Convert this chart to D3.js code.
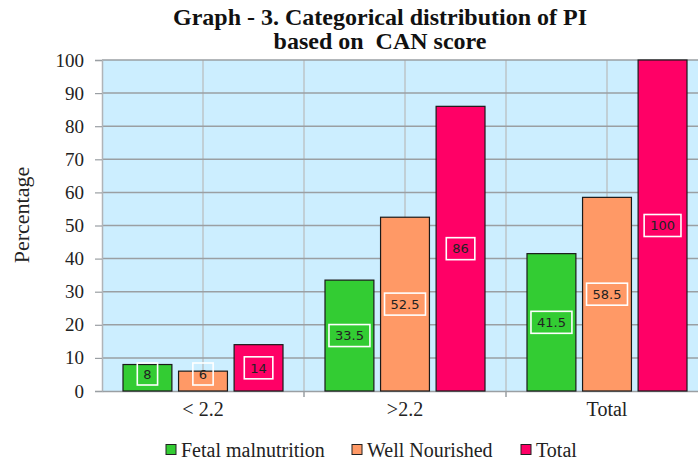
<!DOCTYPE html>
<html>
<head>
<meta charset="utf-8">
<script src="https://cdn.jsdelivr.net/npm/d3@7"></script>
<style>
  body { margin: 0; background: #fff; }
  svg { display: block; }
</style>
</head>
<body>
<svg id="svg" width="698" height="460"></svg>
<script>
var categories = ['< 2.2', '>2.2', 'Total'];
var series = ['Fetal malnutrition', 'Well Nourished', 'Total'];
var fetalValues = [8, 33.5, 41.5];
var wellValues = [6, 52.5, 58.5];
var totalValues = [14, 86, 100];
var yTicks = [0, 10, 20, 30, 40, 50, 60, 70, 80, 90, 100];
var colors = ['#33cc33', '#ff9966', '#ff0066'];

var svg = d3.select('#svg');
var margin = { top: 60, left: 102 };
var plotRight = 708;   // plot runs past the right edge of the picture
var plotBottom = 391;

var x = d3.scaleBand().domain(categories).range([margin.left, plotRight]);
var xs = d3.scaleBand().domain(series).range([21, 181]).paddingInner(0.12);
var y = d3.scaleLinear().domain([0, 100]).range([plotBottom, margin.top]);

var serif = 'Liberation Serif, Times New Roman, serif';

function serifText(sel, size) {
    sel.attr('font-family', serif)
       .style('font-family', serif)
       .style('font-size', size + 'px')
       .attr('fill', '#222');
}

// plot background
svg.append('rect')
    .attr('x', margin.left).attr('y', margin.top)
    .attr('width', plotRight - margin.left).attr('height', plotBottom - margin.top)
    .attr('fill', '#cceeff');

// vertical gridlines at band edges and centres
var vlines = [];
categories.forEach(function(c) {
    vlines.push(x(c) + x.bandwidth() / 2);
    vlines.push(x(c) + x.bandwidth());
});
svg.append('g').selectAll('line')
    .data(vlines)
    .enter().append('line')
    .attr('x1', d => d).attr('x2', d => d)
    .attr('y1', margin.top).attr('y2', plotBottom)
    .attr('stroke', '#bcc4c8').attr('stroke-width', 1.5);

// horizontal gridlines
svg.append('g').selectAll('line')
    .data(yTicks.slice(1))
    .enter().append('line')
    .attr('x1', margin.left).attr('x2', plotRight)
    .attr('y1', d => y(d)).attr('y2', d => y(d))
    .attr('stroke', '#9a9fa3').attr('stroke-width', 1.5);

// y axis
var yAxis = svg.append('g')
    .attr('transform', 'translate(' + margin.left + ',0)')
    .call(d3.axisLeft(y).tickValues(yTicks).tickSize(7).tickPadding(11));
yAxis.attr('font-family', null);
yAxis.select('.domain').attr('stroke', '#b0b4b8').attr('stroke-width', 1.5);
yAxis.selectAll('.tick line').attr('stroke', '#9a9fa3').attr('stroke-width', 1.2);
yAxis.selectAll('.tick text').call(serifText, 19);

// x axis
var xAxis = svg.append('g')
    .attr('transform', 'translate(0,' + plotBottom + ')')
    .call(d3.axisBottom(x).tickSize(0).tickPadding(11));
xAxis.attr('font-family', null);
xAxis.select('.domain').attr('stroke', '#9a9fa3').attr('stroke-width', 1.5);
xAxis.selectAll('.tick text').call(serifText, 20);
svg.append('g').selectAll('line')
    .data(categories.slice(1))
    .enter().append('line')
    .attr('x1', d => x(d)).attr('x2', d => x(d))
    .attr('y1', plotBottom).attr('y2', plotBottom + 6)
    .attr('stroke', '#9a9fa3').attr('stroke-width', 1.5);

// bars
var rows = [];
categories.forEach(function(c, i) {
    [fetalValues[i], wellValues[i], totalValues[i]].forEach(function(v, j) {
        rows.push({ cat: c, ser: series[j], value: v, color: colors[j] });
    });
});

svg.append('g').selectAll('rect')
    .data(rows)
    .enter().append('rect')
    .attr('x', d => x(d.cat) + xs(d.ser))
    .attr('y', d => y(d.value))
    .attr('width', xs.bandwidth())
    .attr('height', d => plotBottom - y(d.value))
    .attr('fill', d => d.color)
    .attr('stroke', '#1a1a1a').attr('stroke-width', 1.2);

// value labels with white boxes
var lab = svg.append('g').selectAll('g')
    .data(rows)
    .enter().append('g')
    .attr('transform', function(d) {
        var cy = Math.min(y(d.value / 2), plotBottom - 17);
        return 'translate(' + (x(d.cat) + xs(d.ser) + xs.bandwidth() / 2) + ',' + cy + ')';
    });
lab.append('text')
    .attr('text-anchor', 'middle')
    .attr('dy', '0.36em')
    .style('font-family', 'DejaVu Sans, Verdana, sans-serif')
    .style('font-size', '13px')
    .attr('fill', '#222')
    .text(d => d.value);
lab.each(function() {
    var g = d3.select(this);
    var w = g.select('text').node().getComputedTextLength() + 12;
    g.insert('rect', 'text')
        .attr('x', -w / 2).attr('y', -11)
        .attr('width', w).attr('height', 22)
        .attr('fill', 'none')
        .attr('stroke', '#fff').attr('stroke-width', 1.6);
});

// title
var title = svg.append('text')
    .attr('text-anchor', 'middle')
    .call(serifText, 24)
    .style('font-weight', 'bold')
    .attr('fill', '#111');
title.append('tspan').attr('x', 380).attr('y', 25).text('Graph - 3. Categorical distribution of PI');
title.append('tspan').attr('x', 380).attr('y', 49).text('based on \u00a0CAN score');

// y label
svg.append('text')
    .attr('transform', 'translate(29,215) rotate(-90)')
    .attr('text-anchor', 'middle')
    .call(serifText, 22)
    .text('Percentage');

// legend
var legendX = [166, 352, 521];
var leg = svg.append('g').selectAll('g')
    .data(series)
    .enter().append('g')
    .attr('transform', (d, i) => 'translate(' + legendX[i] + ',450)');
leg.append('rect')
    .attr('x', 0).attr('y', -5.5)
    .attr('width', 10).attr('height', 10)
    .attr('fill', (d, i) => colors[i])
    .attr('stroke', '#222').attr('stroke-width', 1);
leg.append('text')
    .attr('x', 15).attr('dy', '0.35em')
    .call(serifText, 20)
    .text(d => d);
</script>
</body>
</html>
